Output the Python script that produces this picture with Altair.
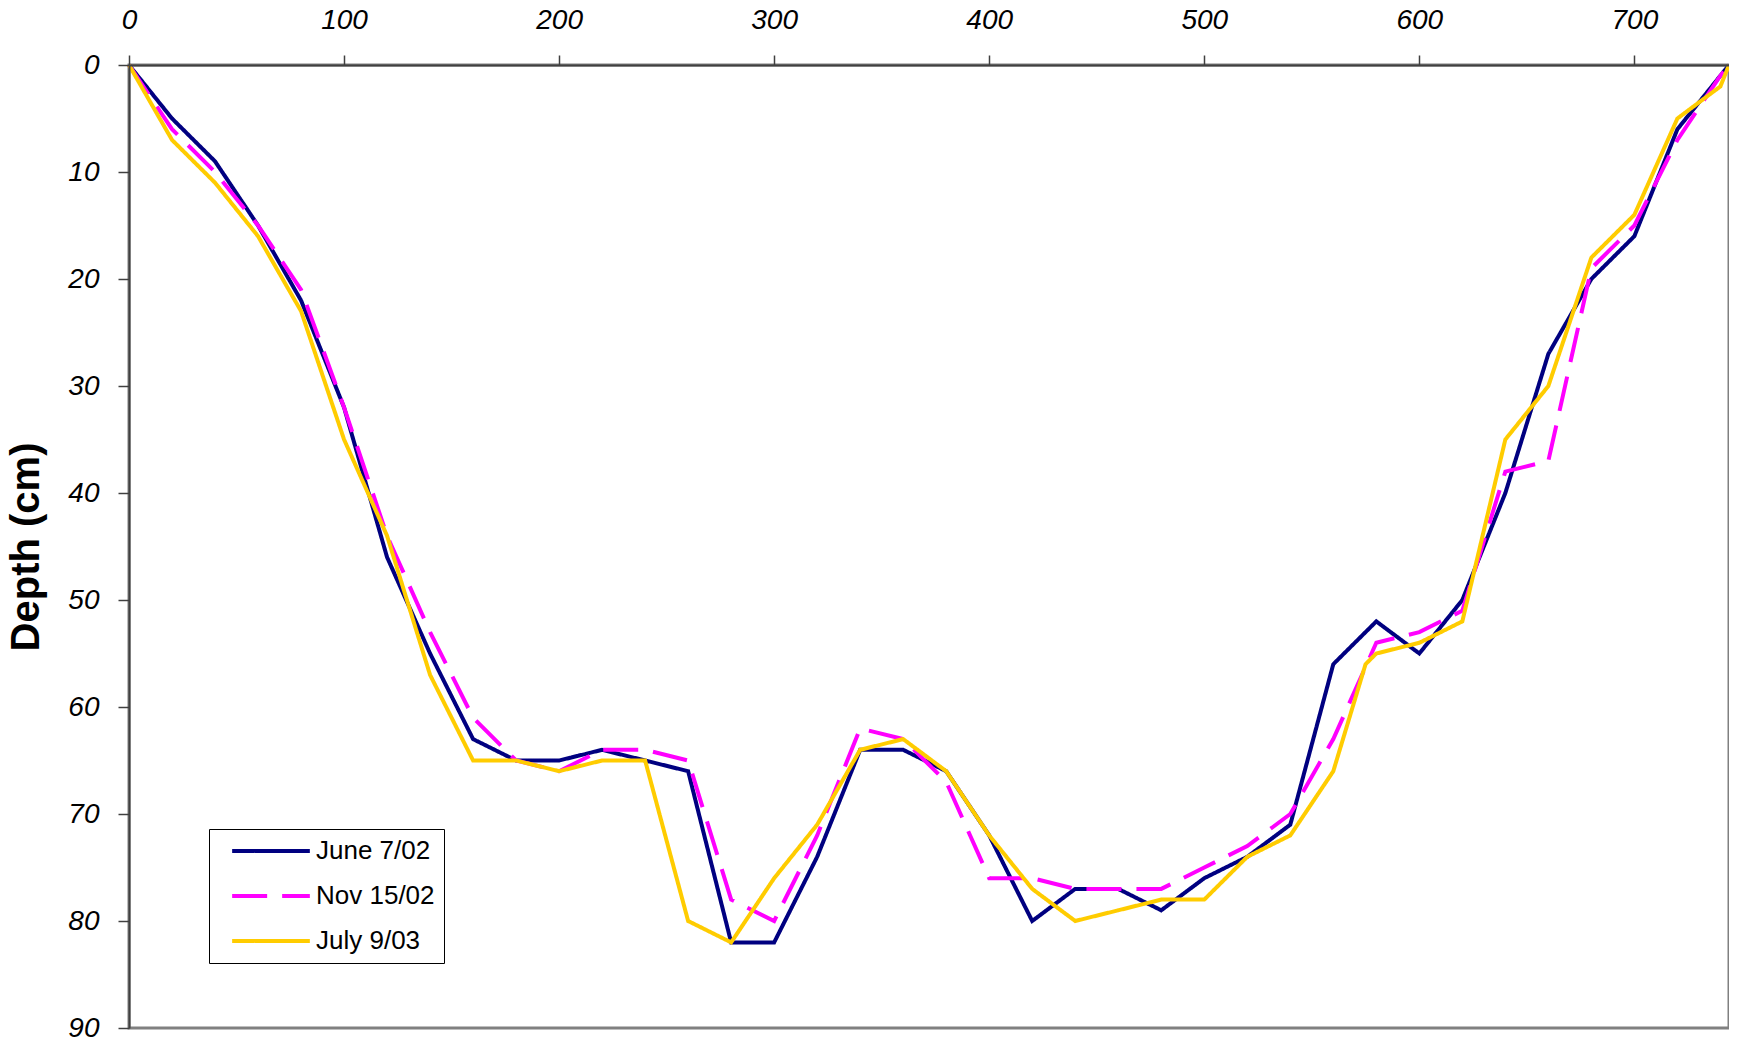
import altair as alt
import pandas as pd

# ---- data ----
series_names = ["June 7/02", "Nov 15/02", "July 9/03"]
series_colors = ["#000080", "#FF00FF", "#FFCC00"]
series_dashes = [[1, 0], [35, 15], [1, 0]]

june_x = [0, 20, 40, 60, 80, 100, 120, 140, 160, 180, 200, 220, 240, 260, 280, 300,
          320, 340, 360, 380, 400, 420, 440, 460, 480, 500, 520, 540, 560, 580, 600,
          620, 640, 660, 680, 700, 720, 740, 744]
june_depth = [0, 5, 9, 15, 22, 32, 46, 55, 63, 65, 65, 64, 65, 66, 82, 82,
              74, 64, 64, 66, 72, 80, 77, 77, 79, 76, 74, 71, 56, 52, 55,
              50, 40, 27, 20, 16, 6, 1, 0]

nov_x = [0, 20, 40, 60, 80, 100, 120, 140, 160, 180, 200, 220, 240, 260, 280, 300,
         320, 340, 360, 380, 400, 420, 440, 460, 480, 500, 520, 540, 560, 580, 600,
         620, 640, 660, 680, 700, 720, 740, 744]
nov_depth = [0, 6, 10, 15, 21, 32, 44, 53, 61, 65, 66, 64, 64, 65, 78, 80,
             72, 62, 63, 67, 76, 76, 77, 77, 77, 75, 73, 70, 63, 54, 53,
             51, 38, 37, 19, 15, 7, 1, 0]

july_x = [0, 20, 40, 60, 80, 100, 120, 140, 160, 180, 200, 220, 240, 260, 280, 300,
          320, 340, 360, 380, 400, 420, 440, 460, 480, 500, 520, 540, 560, 575, 580,
          600, 620, 640, 660, 680, 700, 720, 740, 744]
july_depth = [0, 7, 11, 16, 23, 35, 44, 57, 65, 65, 66, 65, 65, 80, 82, 76,
              71, 64, 63, 66, 72, 77, 80, 79, 78, 78, 74, 72, 66, 56, 55,
              54, 52, 35, 30, 18, 14, 5, 2, 0]

x_ticks = [0, 100, 200, 300, 400, 500, 600, 700]
y_ticks = [0, 10, 20, 30, 40, 50, 60, 70, 80, 90]

rows = []
for name, xs, ds in [(series_names[0], june_x, june_depth),
                     (series_names[1], nov_x, nov_depth),
                     (series_names[2], july_x, july_depth)]:
    for xv, dv in zip(xs, ds):
        rows.append({"distance": xv, "depth": dv, "series": name})
df = pd.DataFrame(rows)

FONT = "Liberation Sans, Arial, sans-serif"

legend = alt.Legend(
    title=None,
    orient="none",
    legendX=80,
    legendY=764,
    padding=9,
    rowPadding=19,
    symbolType="M-38.85,0H38.85",
    symbolSize=4,
    symbolStrokeWidth=4,
    symbolOffset=40,
    labelOffset=32,
    labelFont=FONT,
    labelFontSize=26,
    labelColor="#000000",
    labelLimit=400,
    strokeColor="#000000",
    fillColor="#FFFFFF",
)

chart = alt.Chart(df).mark_line(strokeWidth=4).encode(
    x=alt.X(
        "distance:Q",
        scale=alt.Scale(domain=[0, 744], nice=False, zero=False),
        axis=alt.Axis(
            orient="top", values=x_ticks, format="d", title=None,
            labelFlush=False, labelOverlap=False, grid=False,
            domainColor="#404040", domainWidth=2,
            tickColor="#404040", tickWidth=1.5, tickSize=10,
            labelFont=FONT, labelFontStyle="italic", labelFontSize=28,
            labelColor="#000000", labelPadding=21, zindex=1,
        ),
    ),
    y=alt.Y(
        "depth:Q",
        scale=alt.Scale(domain=[0, 90], reverse=True, nice=False, zero=False),
        axis=alt.Axis(
            values=y_ticks, format="d", title="Depth (cm)",
            labelOverlap=False, grid=False,
            domainColor="#404040", domainWidth=2,
            tickColor="#404040", tickWidth=1.5, tickSize=11,
            labelFont=FONT, labelFontStyle="italic", labelFontSize=28,
            labelColor="#000000", labelPadding=19,
            titleFont=FONT, titleFontWeight="bold", titleFontSize=40,
            titleColor="#000000", titleAngle=270, titleAlign="center",
            titleBaseline="alphabetic", titleX=-91, titleY=481.5, zindex=1,
        ),
    ),
    color=alt.Color("series:N",
                    scale=alt.Scale(domain=series_names, range=series_colors),
                    legend=legend),
    strokeDash=alt.StrokeDash("series:N",
                              scale=alt.Scale(domain=series_names, range=series_dashes),
                              legend=legend),
).properties(
    width=1600,
    height=963,
    autosize=alt.AutoSizeParams(type="none"),
    padding={"left": 121, "top": 57, "right": 0, "bottom": 14},
    background="#FFFFFF",
).configure_view(
    stroke="#808080",
    strokeWidth=3,
).configure_legend(
    strokeWidth=1,
)

chart.save("out.html", embed_options={"renderer": "svg", "actions": False})
